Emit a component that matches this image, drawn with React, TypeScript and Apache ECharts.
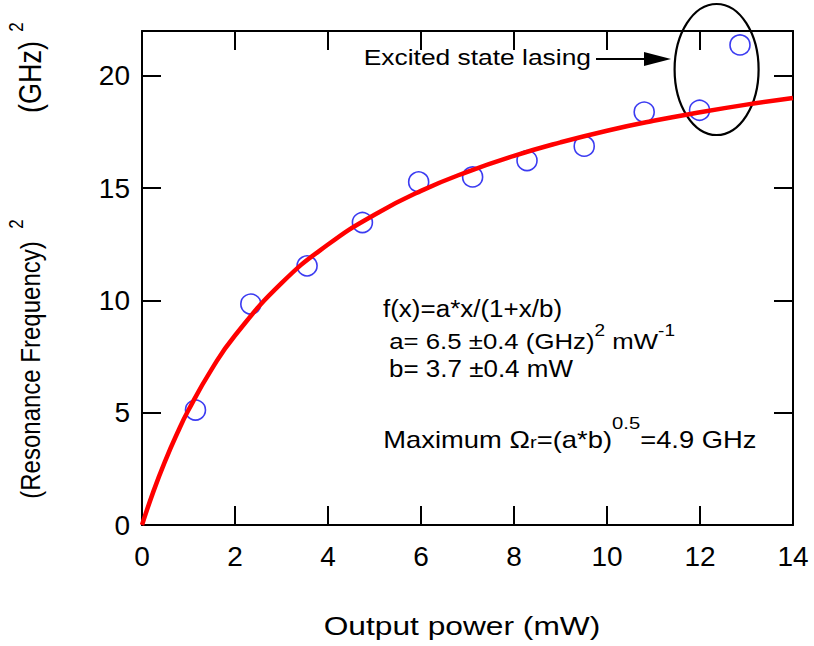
import React, { useEffect, useRef } from 'react';
import * as echarts from 'echarts';

// Measured data (Output power in mW, squared resonance frequency in GHz^2)
const powerMw = [1.15, 2.34, 3.55, 4.74, 5.95, 7.11, 8.28, 9.51, 10.8, 11.99, 12.86];
const resFreqSq = [5.12, 9.84, 11.54, 13.47, 15.28, 15.5, 16.23, 16.87, 18.39, 18.47, 21.38];

// Fit curve
const fitX = [0, 0.25, 0.5, 0.75, 1, 1.5, 2, 3, 4, 5, 6, 7, 8, 9, 10, 11, 12, 13, 14];
const fitY = [0, 1.52, 2.86, 4.05, 5.12, 6.94, 8.44, 10.77, 12.49, 13.82, 14.88, 15.73, 16.44, 17.04, 17.56, 18.0, 18.38, 18.72, 19.02];

const xMin = 0;
const xMax = 14;
const xStep = 2;
const yMin = 0;
const yMax = 22;
const yStep = 5;

const SANS = '"Liberation Sans", Arial, Helvetica, sans-serif';

export default function App() {
  const ref = useRef<HTMLDivElement>(null);
  useEffect(() => {
    const chart = echarts.init(ref.current!, null, { renderer: 'svg' });
    const axisLine = { show: true, onZero: false, lineStyle: { color: '#000', width: 2 } };
    const axisTick = { show: true, inside: true, length: 19, lineStyle: { color: '#000', width: 2 } };
    const noteRich = {
      n: { fontSize: 23, fontFamily: SANS, color: '#000', lineHeight: 26, verticalAlign: 'bottom' },
      s: { fontSize: 17, fontFamily: SANS, color: '#000', lineHeight: 14, verticalAlign: 'top' },
      b: { fontSize: 17, fontFamily: SANS, color: '#000', lineHeight: 14, verticalAlign: 'bottom' },
      h: { fontSize: 1, fontFamily: SANS, color: 'rgba(0,0,0,0)', lineHeight: 36, verticalAlign: 'bottom' },
      k: { fontSize: 1, fontFamily: SANS, color: 'rgba(0,0,0,0)', lineHeight: 30, verticalAlign: 'bottom' },
    };
    chart.setOption({
      animation: false,
      backgroundColor: '#fff',
      grid: { left: 142, top: 31, right: 21, bottom: 121, show: false },
      xAxis: [
        {
          type: 'value', min: xMin, max: xMax, interval: xStep, position: 'bottom',
          axisLine, axisTick, splitLine: { show: false },
          axisLabel: { color: '#000', fontSize: 28, fontFamily: SANS, margin: 17 },
        },
        {
          type: 'value', min: xMin, max: xMax, interval: xStep, position: 'top',
          axisLine, axisTick, splitLine: { show: false }, axisLabel: { show: false },
        },
      ],
      yAxis: [
        {
          type: 'value', min: yMin, max: yMax, interval: yStep, position: 'left',
          axisLine, axisTick, splitLine: { show: false },
          axisLabel: { color: '#000', fontSize: 28, fontFamily: SANS, margin: 12, showMaxLabel: false },
        },
        {
          type: 'value', min: yMin, max: yMax, interval: yStep, position: 'right',
          axisLine, axisTick, splitLine: { show: false }, axisLabel: { show: false },
        },
      ],
      series: [
        {
          type: 'scatter',
          data: powerMw.map((x, i) => [x, resFreqSq[i]]),
          symbol: 'circle',
          symbolSize: 20,
          itemStyle: { color: 'rgba(0,0,0,0)', borderColor: '#0a0aee', borderWidth: 1.6 },
          z: 2,
        },
        {
          type: 'line',
          data: fitX.map((x, i) => [x, fitY[i]]),
          smooth: true,
          showSymbol: false,
          lineStyle: { color: '#ff0000', width: 4.5 },
          z: 3,
        },
      ],
      graphic: [
        {
          type: 'text', x: 462, y: 626, scaleX: 1.22,
          style: { text: 'Output power (mW)', fontSize: 26, fontFamily: SANS, fill: '#000', align: 'center', verticalAlign: 'middle' },
        },
        {
          type: 'text', x: 30, y: 370, rotation: Math.PI / 2, scaleY: 1.15,
          style: { text: '(Resonance Frequency)', fontSize: 24, fontFamily: SANS, fill: '#000', align: 'center', verticalAlign: 'middle' },
        },
        {
          type: 'text', x: 16, y: 224, rotation: Math.PI / 2, scaleY: 1.15,
          style: { text: '2', fontSize: 17, fontFamily: SANS, fill: '#000', align: 'center', verticalAlign: 'middle' },
        },
        {
          type: 'text', x: 30, y: 77, rotation: Math.PI / 2, scaleY: 1.15,
          style: { text: '(GHz)', fontSize: 27, fontFamily: SANS, fill: '#000', align: 'center', verticalAlign: 'middle' },
        },
        {
          type: 'text', x: 16, y: 27, rotation: Math.PI / 2, scaleY: 1.15,
          style: { text: '2', fontSize: 17, fontFamily: SANS, fill: '#000', align: 'center', verticalAlign: 'middle' },
        },
        {
          type: 'text', x: 591, y: 57, scaleX: 1.2,
          style: { text: 'Excited state lasing', fontSize: 22, fontFamily: SANS, fill: '#000', align: 'right', verticalAlign: 'middle' },
        },
        { type: 'line', shape: { x1: 596, y1: 59, x2: 650, y2: 59 }, style: { stroke: '#000', lineWidth: 2 } },
        { type: 'polygon', shape: { points: [[644, 52], [671, 59], [644, 66]] }, style: { fill: '#000' } },
        { type: 'ellipse', shape: { cx: 716.6, cy: 69.5, rx: 42, ry: 65.5 }, style: { fill: 'none', stroke: '#000', lineWidth: 2.2 } },
        {
          type: 'text', x: 383, y: 309, scaleX: 1.13,
          style: { text: 'f(x)=a*x/(1+x/b)', fontSize: 23, fontFamily: SANS, fill: '#000', align: 'left', verticalAlign: 'middle' },
        },
        {
          type: 'text', x: 389, y: 322, scaleX: 1.12,
          style: { text: '{k| }{n|a= 6.5 ±0.4 (GHz)}{s|2}{n| mW}{s|-1}', rich: noteRich, align: 'left', verticalAlign: 'top' },
        },
        {
          type: 'text', x: 389, y: 369, scaleX: 1.13,
          style: { text: 'b= 3.7 ±0.4 mW', fontSize: 23, fontFamily: SANS, fill: '#000', align: 'left', verticalAlign: 'middle' },
        },
        {
          type: 'text', x: 383, y: 415, scaleX: 1.19,
          style: { text: '{h| }{n|Maximum Ω}{b|r}{n|=(a*b)}{s|0.5}{n|=4.9 GHz}', rich: noteRich, align: 'left', verticalAlign: 'top' },
        },
      ],
    });
    return () => chart.dispose();
  }, []);
  return (
    <div
      ref={ref}
      style={{ position: 'fixed', left: 0, top: 0, width: 814, height: 646, background: '#fff' }}
    />
  );
}
